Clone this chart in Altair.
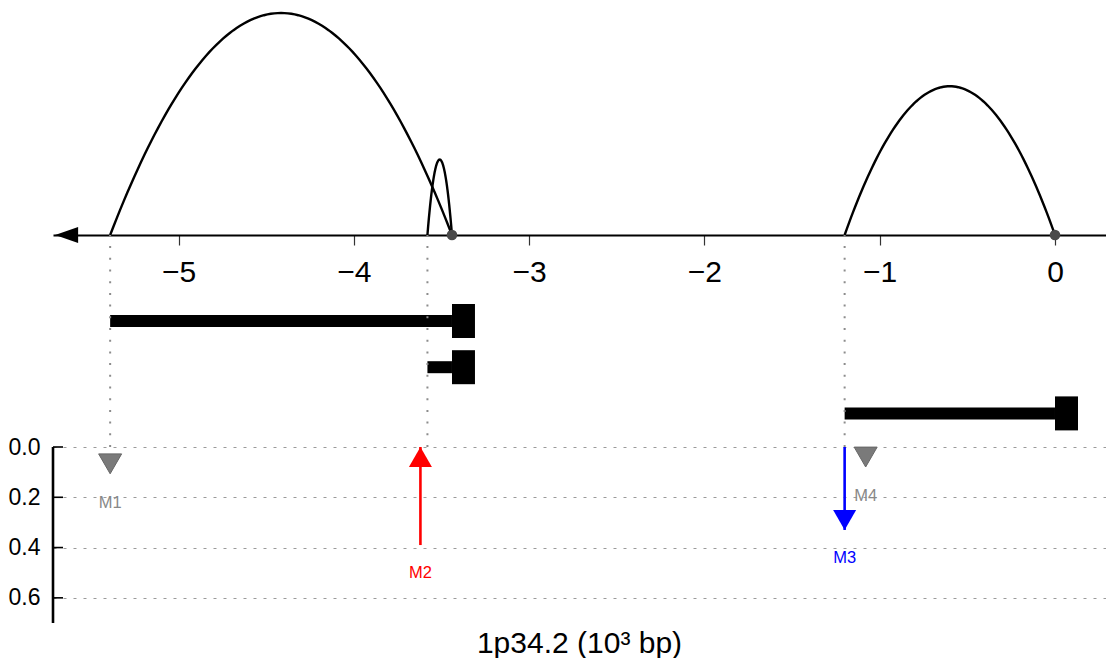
import altair as alt
import pandas as pd

# ---------------- data ----------------
X_TICKS = [-5, -4, -3, -2, -1, 0]
Y_TICKS = [0.0, 0.2, 0.4, 0.6]

ARC_ID = ["a1", "a2", "a3"]
ARC_START = [-5.39, -3.58, -1.20]
ARC_END = [-3.44, -3.44, 0.00]
ARC_HEIGHT = [1.00, 0.34, 0.67]

NODE_POS = [-3.44, 0.00]

BREAK_POS = [-5.39, -3.58, -1.20]

BAR_TRACK = [1, 2, 3]
BAR_START = [-5.39, -3.58, -1.20]
BAR_END = [-3.44, -3.44, 0.00]

TRI_LABEL = ["M1", "M4"]
TRI_POS = [-5.39, -1.08]
TRI_VALUE = [0.067, 0.040]

ARROW_LABEL = ["M2", "M3"]
ARROW_POS = [-3.62, -1.20]
ARROW_FROM = [0.39, 0.00]
ARROW_TO = [0.00, 0.33]
ARROW_COLOR = ["#ff0000", "#0000ff"]

TITLE = "1p34.2 (10\u00b3 bp)"

# ---------------- layout / style ----------------
FONT = "Liberation Sans"
W, H = 1053, 606
X_DOMAIN = [-5.716, 0.291]
PX_PER_KB = W / (X_DOMAIN[1] - X_DOMAIN[0])
AXIS_Y = 225          # px from plot top: genomic axis line
ARC_UNIT = 222        # px per arc height unit
TRACK_Y0 = 311        # px from plot top: first track
TRACK_STEP = 46.2     # px per track
ZERO_Y = 437          # px from plot top: 0.0 of lower panel
MARK_UNIT = 251.4     # px per unit in lower panel
AXIS_END = 0.70
CAP_W = 23 / PX_PER_KB

arc_scale = alt.Scale(domain=[-(H - AXIS_Y) / ARC_UNIT, AXIS_Y / ARC_UNIT], nice=False, zero=False)
track_scale = alt.Scale(domain=[1 - TRACK_Y0 / TRACK_STEP, 1 + (H - TRACK_Y0) / TRACK_STEP],
                        reverse=True, nice=False, zero=False)
mark_scale = alt.Scale(domain=[-ZERO_Y / MARK_UNIT, (H - ZERO_Y) / MARK_UNIT],
                       reverse=True, nice=False, zero=False)

x_scale = alt.Scale(domain=X_DOMAIN, nice=False, zero=False)
x_axis = alt.Axis(values=X_TICKS, orient="bottom", offset=-(H - AXIS_Y), domain=True,
                  domainColor="black", domainWidth=2, ticks=True, tickColor="#333",
                  tickSize=10, tickWidth=1.2, labelFontSize=30, labelFont=FONT,
                  labelColor="black", labelPadding=12, grid=False, title=None,
                  labelFlush=False)


def X(field):
    return alt.X(field, type="quantitative", scale=x_scale, axis=x_axis)


# ---------------- top group: arcs on the genomic axis ----------------
arcs_df = pd.DataFrame({"id": ARC_ID, "start": ARC_START, "end": ARC_END, "h": ARC_HEIGHT})
arcs = (
    alt.Chart(arcs_df)
    .transform_calculate(t="sequence(0, 1.0001, 0.01)")
    .transform_flatten(["t"])
    .transform_calculate(xx="datum.start + (datum.end - datum.start) * datum.t",
                         yy="4 * datum.h * datum.t * (1 - datum.t)")
    .mark_line(color="black", strokeWidth=2.4)
    .encode(x=X("xx"), y=alt.Y("yy:Q", scale=arc_scale, axis=None),
            detail="id:N", order="t:Q")
)

nodes = (
    alt.Chart(pd.DataFrame({"pos": NODE_POS, "y": [0.0] * len(NODE_POS)}))
    .mark_point(shape="circle", filled=True, size=113, color="#4a4a4a", opacity=1)
    .encode(x=X("pos"), y=alt.Y("y:Q", scale=arc_scale, axis=None))
)

arrowhead = (
    alt.Chart(pd.DataFrame({"pos": [X_DOMAIN[0] + 0.012], "y": [0.0]}))
    .mark_point(shape="M0,0L2,-0.7L2,0.7Z", filled=True, size=529, color="black", opacity=1)
    .encode(x=X("pos"), y=alt.Y("y:Q", scale=arc_scale, axis=None))
)

top_group = alt.layer(arcs, nodes, arrowhead)

# ---------------- middle group: tracks ----------------
bars_df = pd.DataFrame({"track": BAR_TRACK, "start": BAR_START, "end": BAR_END})
bar_lines = (
    alt.Chart(bars_df)
    .mark_rule(color="black", strokeWidth=12, strokeCap="butt")
    .encode(x=X("start"), x2="end:Q", y=alt.Y("track:Q", scale=track_scale, axis=None))
)
bar_caps = (
    alt.Chart(bars_df)
    .transform_calculate(cap_end=f"datum.end + {CAP_W}")
    .mark_rule(color="black", strokeWidth=34, strokeCap="butt")
    .encode(x=X("end"), x2="cap_end:Q", y=alt.Y("track:Q", scale=track_scale, axis=None))
)
mid_group = alt.layer(bar_lines, bar_caps)

# ---------------- lower group: markers ----------------
y_axis = alt.Axis(values=Y_TICKS, format=".1f", orient="left", grid=True, gridDash=[3, 7],
                  gridColor="#9a9a9a", gridWidth=1, domain=False, ticks=False,
                  labelFontSize=23, labelFont=FONT, labelColor="black", labelPadding=13,
                  title=None)

axis_top_in_mark = -(ZERO_Y - AXIS_Y) / MARK_UNIT
breaks = (
    alt.Chart(pd.DataFrame({"pos": BREAK_POS, "y0": [0.0] * 3, "y1": [axis_top_in_mark] * 3}))
    .mark_rule(color="#8c8c8c", strokeWidth=2, strokeDash=[2, 9.7])
    .encode(x=X("pos"), y=alt.Y("y0:Q", scale=mark_scale, axis=y_axis), y2="y1:Q")
)

yaxis_line = (
    alt.Chart(pd.DataFrame({"y0": [Y_TICKS[0]], "y1": [AXIS_END]}))
    .mark_rule(color="black", strokeWidth=2.6)
    .encode(x=alt.value(0), y=alt.Y("y0:Q", scale=mark_scale, axis=y_axis), y2="y1:Q")
)
ystubs = (
    alt.Chart(pd.DataFrame({"v": Y_TICKS}))
    .mark_rule(color="black", strokeWidth=1.6)
    .encode(x=alt.value(0), x2=alt.value(10), y=alt.Y("v:Q", scale=mark_scale, axis=y_axis))
)

tri_df = pd.DataFrame({"label": TRI_LABEL, "pos": TRI_POS, "v": TRI_VALUE})
tris = (
    alt.Chart(tri_df)
    .mark_point(shape="triangle-down", filled=True, size=529, color="#7a7a7a",
                stroke="#666666", strokeWidth=1, opacity=1)
    .encode(x=X("pos"), y=alt.Y("v:Q", scale=mark_scale, axis=y_axis))
)
tri_text = (
    alt.Chart(tri_df)
    .mark_text(dy=39, baseline="middle", align="center", fontSize=16.5, font=FONT, color="#888888")
    .encode(x=X("pos"), y=alt.Y("v:Q", scale=mark_scale, axis=y_axis), text="label:N")
)

arr_df = pd.DataFrame({"label": ARROW_LABEL, "pos": ARROW_POS, "from": ARROW_FROM,
                       "to": ARROW_TO})
color_enc = alt.Color("label:N", scale=alt.Scale(domain=ARROW_LABEL, range=ARROW_COLOR),
                      legend=None)
arr_lines = (
    alt.Chart(arr_df)
    .mark_rule(strokeWidth=2.6)
    .encode(x=X("pos"), y=alt.Y("from:Q", scale=mark_scale, axis=y_axis), y2="to:Q",
            color=color_enc)
)
arr_heads = (
    alt.Chart(arr_df)
    .transform_calculate(dir="datum.to < datum['from'] ? 'up' : 'down'")
    .mark_point(filled=True, size=529, opacity=1)
    .encode(x=X("pos"), y=alt.Y("to:Q", scale=mark_scale, axis=y_axis),
            shape=alt.Shape("dir:N", scale=alt.Scale(domain=["up", "down"],
                                                      range=["M0,0L1,1.732L-1,1.732Z",
                                                             "M0,0L1,-1.732L-1,-1.732Z"]),
                            legend=None),
            color=color_enc)
)
arr_text = (
    alt.Chart(arr_df)
    .transform_calculate(low="max(datum['from'], datum.to)")
    .mark_text(dy=28, baseline="middle", align="center", fontSize=16.5, font=FONT)
    .encode(x=X("pos"), y=alt.Y("low:Q", scale=mark_scale, axis=y_axis), text="label:N",
            color=color_enc)
)

low_group = alt.layer(breaks, yaxis_line, ystubs, tris, tri_text, arr_lines, arr_heads, arr_text)

chart = (
    alt.layer(top_group, mid_group, low_group)
    .resolve_scale(y="independent", color="independent", shape="independent")
    .properties(
        width=W, height=H,
        padding={"left": 0, "top": 0, "right": 0, "bottom": 0},
        title=alt.TitleParams(TITLE, orient="bottom", anchor="middle", frame="group",
                              fontSize=30, fontWeight="normal", font=FONT, color="black",
                              offset=5),
    )
    .configure_view(stroke=None)
)

chart.save("out.html", embed_options={"renderer": "svg", "actions": False})
